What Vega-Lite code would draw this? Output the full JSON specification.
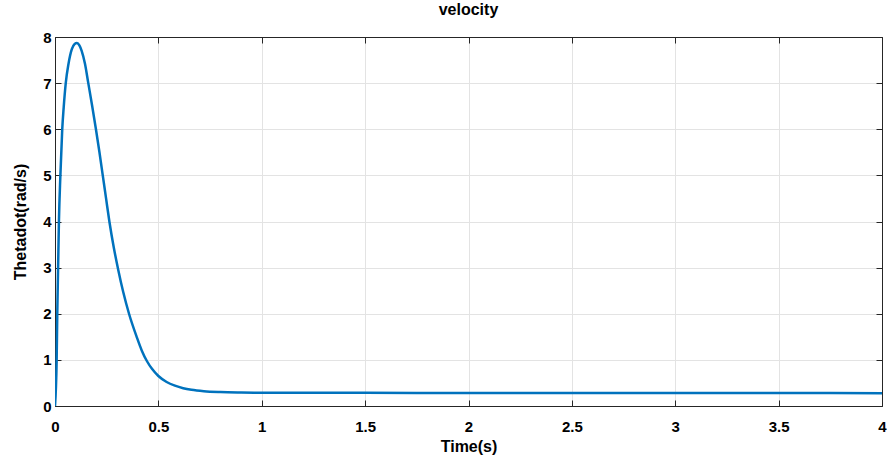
{
  "$schema": "https://vega.github.io/schema/vega-lite/v6.json",
  "width": 827,
  "height": 369,
  "autosize": {"type": "none"},
  "padding": {"left": 55, "top": 37, "right": 9, "bottom": 57},
  "background": "white",
  "config": {
    "font": "Liberation Sans",
    "view": {"stroke": "#262626", "strokeWidth": 1},
    "axis": {
      "labelFont": "Liberation Sans",
      "labelFontWeight": "bold",
      "labelFontSize": 15,
      "labelColor": "#000000",
      "titleFont": "Liberation Sans",
      "titleFontWeight": "bold",
      "titleFontSize": 16,
      "titleColor": "#000000",
      "domainColor": "#262626",
      "tickColor": "#262626",
      "gridColor": "#e3e3e3",
      "gridWidth": 1
    }
  },
  "title": {
    "text": "velocity",
    "font": "Liberation Sans",
    "fontSize": 16,
    "fontWeight": "bold",
    "color": "#000000",
    "offset": 12,
    "anchor": "middle"
  },
  "data": {
    "values": [
      {"t": 0, "v": 0},
      {"t": 0.008, "v": 1},
      {"t": 0.011, "v": 2},
      {"t": 0.015, "v": 3},
      {"t": 0.019, "v": 4},
      {"t": 0.026, "v": 5},
      {"t": 0.035, "v": 6},
      {"t": 0.042, "v": 6.47},
      {"t": 0.052, "v": 7},
      {"t": 0.065, "v": 7.41},
      {"t": 0.081, "v": 7.73},
      {"t": 0.095, "v": 7.85},
      {"t": 0.106, "v": 7.87},
      {"t": 0.118, "v": 7.82},
      {"t": 0.129, "v": 7.7},
      {"t": 0.145, "v": 7.42},
      {"t": 0.161, "v": 7.0},
      {"t": 0.18, "v": 6.5},
      {"t": 0.198, "v": 6.0},
      {"t": 0.215, "v": 5.5},
      {"t": 0.231, "v": 5.0},
      {"t": 0.247, "v": 4.5},
      {"t": 0.263, "v": 4.0},
      {"t": 0.285, "v": 3.42},
      {"t": 0.306, "v": 2.95},
      {"t": 0.33, "v": 2.47},
      {"t": 0.358, "v": 2.0},
      {"t": 0.395, "v": 1.5},
      {"t": 0.42, "v": 1.2},
      {"t": 0.445, "v": 0.97},
      {"t": 0.47, "v": 0.8},
      {"t": 0.5, "v": 0.65},
      {"t": 0.54, "v": 0.52},
      {"t": 0.58, "v": 0.44},
      {"t": 0.62, "v": 0.385},
      {"t": 0.66, "v": 0.35},
      {"t": 0.72, "v": 0.32},
      {"t": 0.8, "v": 0.302},
      {"t": 0.9, "v": 0.293},
      {"t": 1.0, "v": 0.289},
      {"t": 1.5, "v": 0.285},
      {"t": 2, "v": 0.283},
      {"t": 2.5, "v": 0.281},
      {"t": 3, "v": 0.28},
      {"t": 3.5, "v": 0.28},
      {"t": 4, "v": 0.279}
    ]
  },
  "layer": [
    {
      "mark": {"type": "line", "color": "#0072BD", "strokeWidth": 2.5, "clip": true, "interpolate": "monotone"},
      "encoding": {
        "x": {
          "field": "t", "type": "quantitative",
          "scale": {"domain": [0, 4], "nice": false, "zero": false},
          "axis": {"title": "Time(s)", "values": [0, 0.5, 1, 1.5, 2, 2.5, 3, 3.5, 4], "format": "~g", "tickSize": -6, "labelPadding": 19, "titlePadding": 4, "labelFlush": false}
        },
        "y": {
          "field": "v", "type": "quantitative",
          "scale": {"domain": [0, 8], "nice": false},
          "axis": {"title": "Thetadot(rad/s)", "values": [0, 1, 2, 3, 4, 5, 6, 7, 8], "format": "~g", "tickSize": -6, "labelPadding": 10, "titlePadding": 14, "labelFlush": false}
        }
      }
    },
    {
      "mark": {"type": "line", "opacity": 0},
      "encoding": {
        "x": {
          "field": "t", "type": "quantitative",
          "scale": {"domain": [0, 4], "nice": false, "zero": false},
          "axis": {"orient": "top", "title": null, "labels": false, "grid": false, "values": [0, 0.5, 1, 1.5, 2, 2.5, 3, 3.5, 4], "tickSize": -6}
        },
        "y": {
          "field": "v", "type": "quantitative",
          "scale": {"domain": [0, 8], "nice": false},
          "axis": {"orient": "right", "title": null, "labels": false, "grid": false, "values": [0, 1, 2, 3, 4, 5, 6, 7, 8], "tickSize": -6}
        }
      }
    }
  ],
  "resolve": {"axis": {"x": "independent", "y": "independent"}}
}
